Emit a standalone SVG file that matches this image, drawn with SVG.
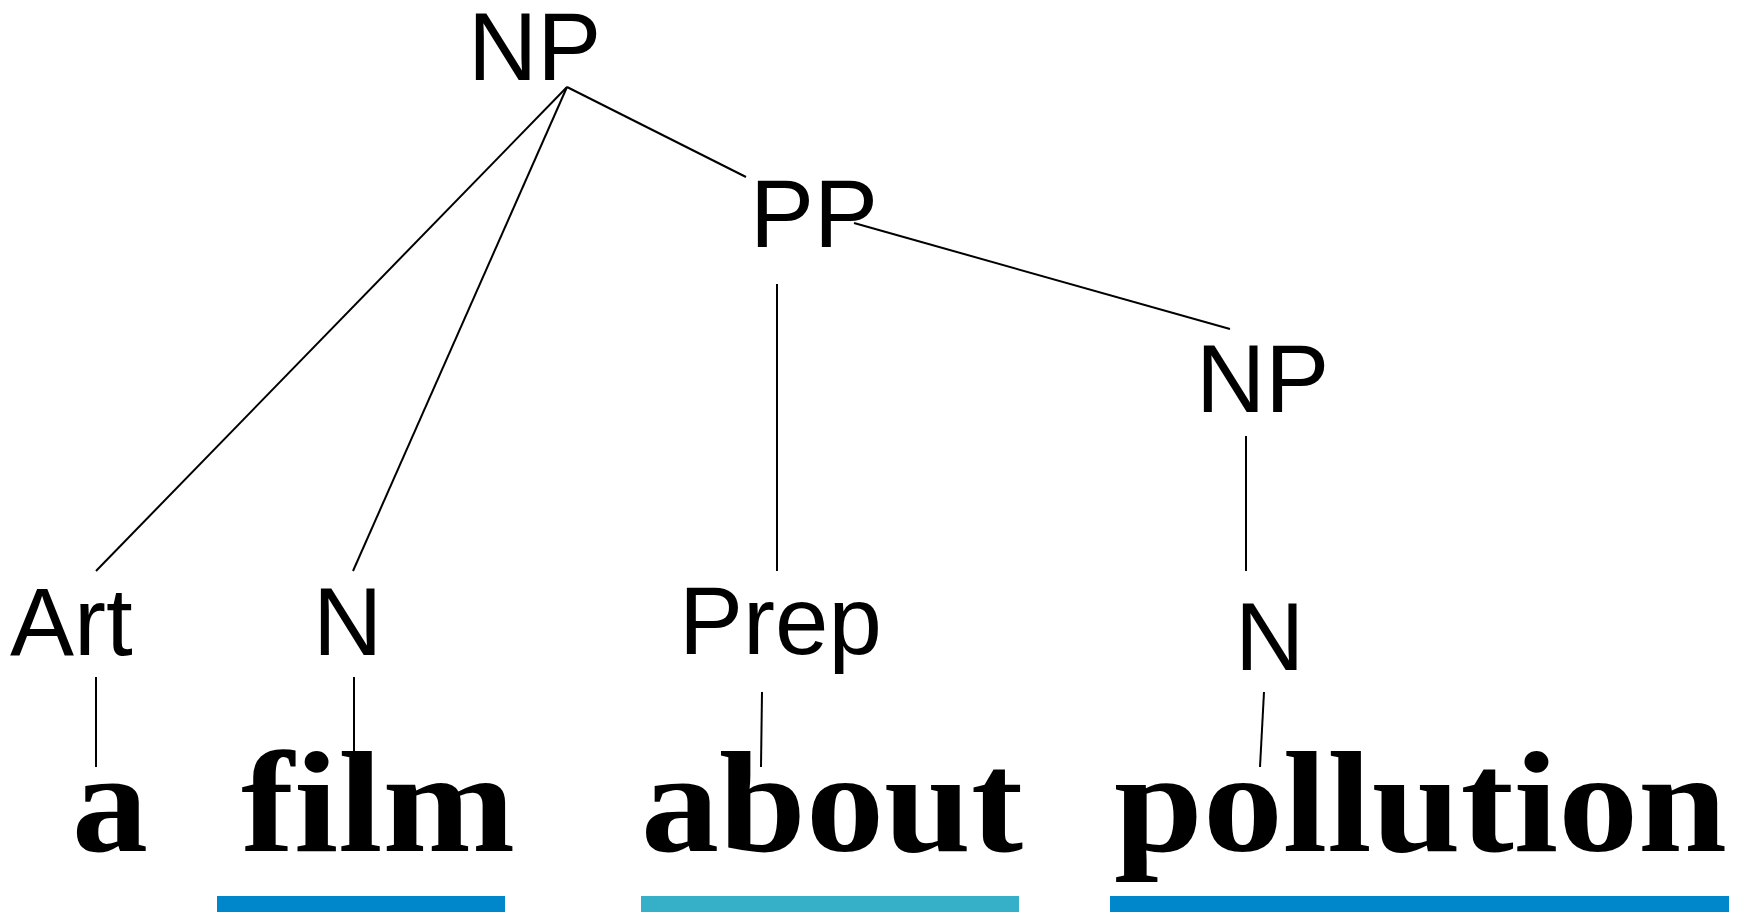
<svg xmlns="http://www.w3.org/2000/svg" width="1738" height="912" viewBox="0 0 1738 912">
<style>
.lbl{font-family:"Liberation Sans",Arial,sans-serif;font-size:96px;fill:#000}
.word{font-family:"Liberation Serif","Times New Roman",serif;font-weight:bold;font-size:144px;fill:#000}
.edge{stroke:#000;stroke-width:2;fill:none;stroke-linecap:butt}
</style>
<rect width="1738" height="912" fill="#fff"/>
<g id="connectors">
<line class="edge" x1="567" y1="87" x2="96" y2="571"/>
<line class="edge" x1="567" y1="87" x2="353" y2="571"/>
<line class="edge" x1="567" y1="87" x2="746" y2="177"/>
<line class="edge" x1="854" y1="223" x2="1230" y2="329"/>
<line class="edge" x1="777" y1="284" x2="777" y2="571"/>
<line class="edge" x1="1246" y1="436" x2="1246" y2="571"/>
<line class="edge" x1="96" y1="677" x2="96" y2="767"/>
<line class="edge" x1="354" y1="677" x2="354" y2="756"/>
<line class="edge" x1="762" y1="692" x2="761" y2="767"/>
<line class="edge" x1="1264" y1="692" x2="1260" y2="767"/>
</g>
<g id="node-np-root"><text class="lbl" x="468" y="80">NP</text></g>
<g id="node-pp"><text class="lbl" x="750" y="247">PP</text></g>
<g id="node-np2"><text class="lbl" x="1196" y="412">NP</text></g>
<g id="node-art"><text class="lbl" x="10" y="655">Art</text></g>
<g id="node-n1"><text class="lbl" x="313" y="655">N</text></g>
<g id="node-prep"><text class="lbl" x="679" y="654">Prep</text></g>
<g id="node-n2"><text class="lbl" x="1235" y="670">N</text></g>
<g id="word-a"><text class="word" x="72" y="851" textLength="76" lengthAdjust="spacingAndGlyphs">a</text></g>
<g id="word-film"><text class="word" x="241" y="851" textLength="274" lengthAdjust="spacingAndGlyphs">film</text></g>
<g id="word-about"><text class="word" x="641" y="851" textLength="382" lengthAdjust="spacingAndGlyphs">about</text></g>
<g id="word-pollution"><text class="word" x="1114" y="851" textLength="613" lengthAdjust="spacingAndGlyphs">pollution</text></g>
<g id="underlines">
<rect x="217" y="896" width="288" height="16" fill="#0086CB"/>
<rect x="641" y="896" width="378" height="16" fill="#36AFC8"/>
<rect x="1110" y="896" width="619" height="16" fill="#0086CB"/>
</g>
</svg>
